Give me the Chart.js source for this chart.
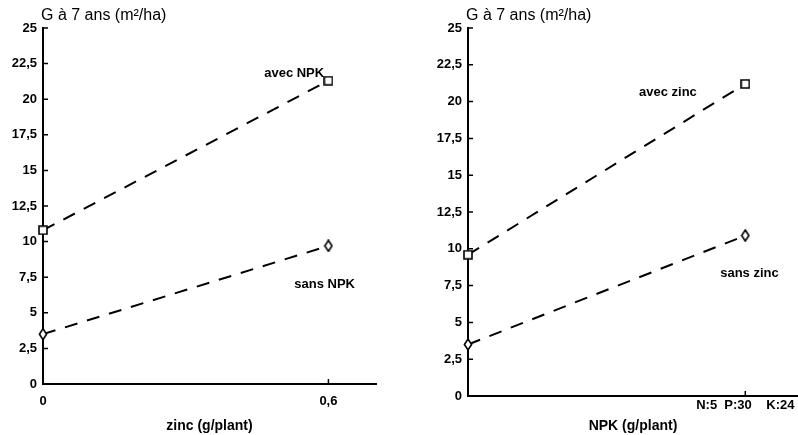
<!DOCTYPE html>
<html>
<head>
<meta charset="utf-8">
<script src="https://cdn.jsdelivr.net/npm/chart.js@4.4.1/dist/chart.umd.min.js"></script>
<style>
  html, body { margin: 0; background: #fff; }
  .panel { position: absolute; top: 0; width: 399px; height: 435px; }
</style>
</head>
<body>
<div class="panel" style="left:0"><canvas id="zincChart"></canvas></div>
<div class="panel" style="left:399px"><canvas id="npkChart"></canvas></div>
<script>
const FONT = '"Liberation Sans", Arial, sans-serif';
const Y_TITLE = "G à 7 ans (m²/ha)";

// left panel: effect of zinc
const zincDoses = [0, 0.6];
const zincTickLabels = ["0", "0,6"];
const avecNpk = [10.8, 21.3];
const sansNpk = [3.5, 9.7];

// right panel: effect of NPK
const npkDoses = [0, 1];
const npkTickValues = [1];
const npkTickLabels = ["N:5  P:30    K:24"];
const avecZinc = [9.6, 21.2];
const sansZinc = [3.5, 10.9];

Chart.defaults.color = "#000";
Chart.defaults.font.family = FONT;

function marker(kind) {
    const c = document.createElement("canvas");
    c.width = 10;
    c.height = kind === "square" ? 10 : 13;
    const g = c.getContext("2d");
    g.fillStyle = "#fff";
    g.strokeStyle = "#000";
    g.lineWidth = 1.6;
    g.beginPath();
    if (kind === "square") {
        g.rect(1, 1, 8, 8);
    } else {
        g.moveTo(5, 1);
        g.lineTo(8.6, 6.5);
        g.lineTo(5, 12);
        g.lineTo(1.4, 6.5);
        g.closePath();
    }
    g.fill();
    g.stroke();
    return c;
}

const squareMark = marker("square");
const diamondMark = marker("diamond");

const decorations = {
    id: "decorations",
    beforeDatasetsDraw(chart) {
        const { ctx, chartArea, scales: { x, y } } = chart;
        ctx.save();
        ctx.strokeStyle = "#000";
        ctx.lineWidth = 1.5;
        ctx.beginPath();
        y.ticks.forEach((t) => {
            const py = y.getPixelForValue(t.value);
            ctx.moveTo(chartArea.left, py);
            ctx.lineTo(chartArea.left + 5, py);
        });
        x.ticks.forEach((t) => {
            const px = x.getPixelForValue(t.value);
            ctx.moveTo(px, chartArea.bottom);
            ctx.lineTo(px, chartArea.bottom - 5);
        });
        ctx.stroke();
        ctx.restore();
    },
    afterDatasetsDraw(chart, args, opts) {
        const { ctx, chartArea, scales: { x, y } } = chart;
        ctx.save();
        ctx.fillStyle = "#000";
        ctx.textBaseline = "middle";

        ctx.font = `16px ${FONT}`;
        ctx.textAlign = "left";
        ctx.fillText(Y_TITLE, chartArea.left - 2, chartArea.top - 12);

        ctx.font = `bold 14px ${FONT}`;
        ctx.textAlign = "center";
        ctx.fillText(opts.xTitle, (chartArea.left + chartArea.right) / 2, chart.height - 9);

        ctx.font = `bold 13px ${FONT}`;
        opts.notes.forEach((n) => {
            ctx.fillText(n.text, x.getPixelForValue(n.x), y.getPixelForValue(n.y));
        });
        ctx.restore();
    },
};

function series(xs, ys, mark) {
    return {
        data: xs.map((v, i) => ({ x: v, y: ys[i] })),
        borderColor: "#000",
        borderWidth: 2,
        borderDash: [13, 10],
        pointStyle: mark,
        pointRadius: 6,
        clip: false,
        tension: 0,
    };
}

function buildChart(el, p) {
    return new Chart(el, {
        type: "line",
        data: {
            datasets: [
                series(p.xs, p.avec, squareMark),
                series(p.xs, p.sans, diamondMark),
            ],
        },
        plugins: [decorations],
        options: {
            responsive: true,
            maintainAspectRatio: false,
            animation: false,
            layout: {
                autoPadding: false,
                padding: { top: 28, right: p.padRight, left: 0, bottom: 0 },
            },
            plugins: {
                legend: { display: false },
                tooltip: { enabled: false },
                decorations: { xTitle: p.xTitle, notes: p.notes },
            },
            scales: {
                x: {
                    type: "linear",
                    min: 0,
                    max: p.xMax,
                    grid: { display: false, drawTicks: false },
                    border: { display: true, color: "#000", width: 2 },
                    afterBuildTicks: (s) => {
                        s.ticks = p.tickValues.map((v) => ({ value: v }));
                    },
                    ticks: {
                        padding: p.xTickPad,
                        maxRotation: 0,
                        font: { size: 13, weight: "bold" },
                        callback: (v) => p.tickLabels[p.tickValues.indexOf(v)] ?? "",
                    },
                    afterFit: (s) => {
                        s.height = p.xAxisHeight;
                        s.paddingLeft = 0;
                        s.paddingRight = 0;
                    },
                },
                y: {
                    min: 0,
                    max: 25,
                    grid: { display: false, drawTicks: false },
                    border: { display: true, color: "#000", width: 2 },
                    ticks: {
                        stepSize: 2.5,
                        padding: 6,
                        font: { size: 13, weight: "bold" },
                        callback: (v) => String(v).replace(".", ","),
                    },
                    afterFit: (s) => { s.width = p.yAxisWidth; },
                },
            },
        },
    });
}

buildChart(document.getElementById("zincChart"), {
    xs: zincDoses,
    avec: avecNpk,
    sans: sansNpk,
    xMax: 0.7,
    tickValues: zincDoses,
    tickLabels: zincTickLabels,
    xTickPad: 10,
    padRight: 23,
    yAxisWidth: 43,
    xAxisHeight: 51,
    xTitle: "zinc (g/plant)",
    notes: [
        { text: "avec NPK", x: 0.528, y: 21.8 },
        { text: "sans NPK", x: 0.592, y: 7.0 },
    ],
});

buildChart(document.getElementById("npkChart"), {
    xs: npkDoses,
    avec: avecZinc,
    sans: sansZinc,
    xMax: 1.19,
    tickValues: npkTickValues,
    tickLabels: npkTickLabels,
    xTickPad: 2,
    padRight: 0,
    yAxisWidth: 69,
    xAxisHeight: 39,
    xTitle: "NPK (g/plant)",
    notes: [
        { text: "avec zinc", x: 0.721, y: 20.65 },
        { text: "sans zinc", x: 1.015, y: 8.36 },
    ],
});
</script>
</body>
</html>
